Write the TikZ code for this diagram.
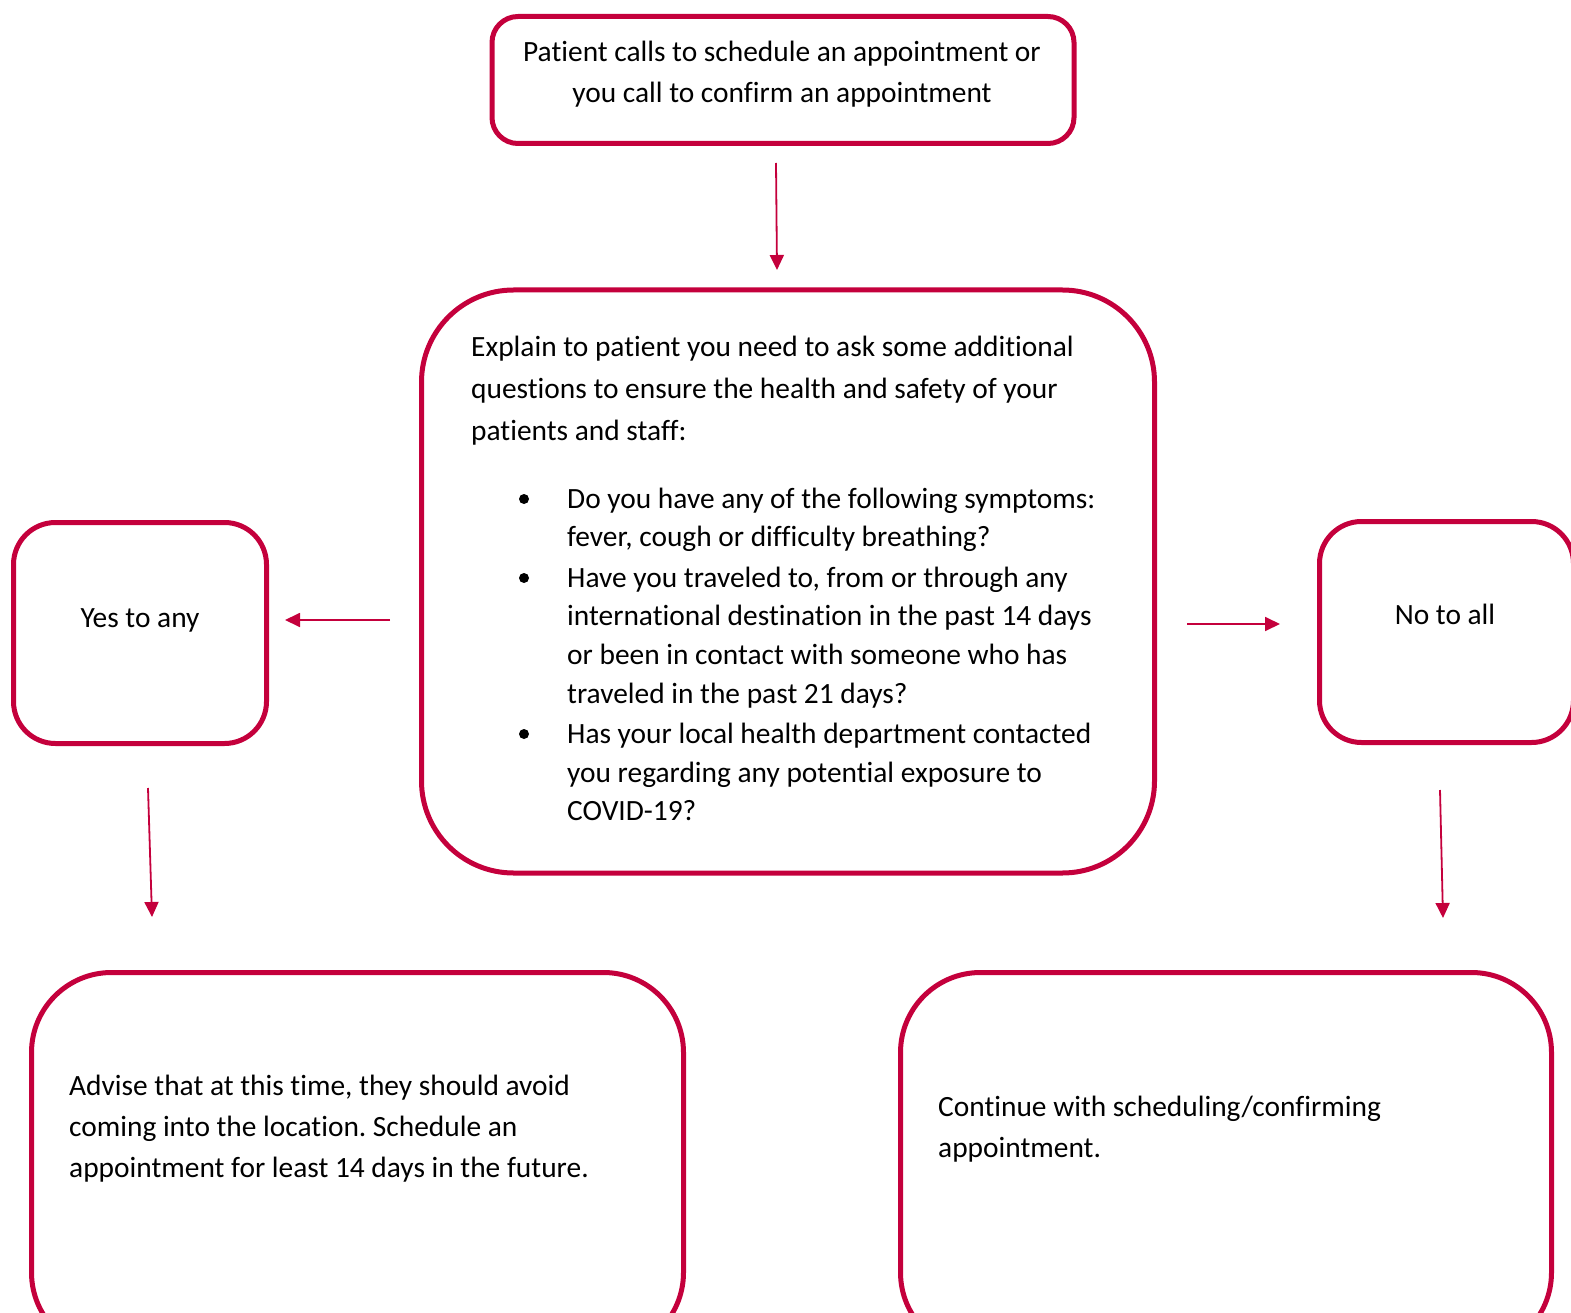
\documentclass[tikz,border=0pt]{standalone}
\usepackage{fontspec}
\setmainfont[Ligatures={NoCommon}]{Carlito}
\usetikzlibrary{arrows.meta}
\definecolor{crim}{RGB}{196,0,60}
\tikzset{
  box/.style={draw=crim, line width=5pt, rectangle, fill=none, inner sep=0pt},
  txt/.style={font=\fontsize{29.4}{41}\selectfont\frenchspacing, inner sep=0pt, text=black},
  lt/.style={txt, anchor=base west},
  flow/.style={draw=crim, line width=1.8pt, -{Triangle[length=15pt,width=14pt]}},
}
\begin{document}
\begin{tikzpicture}[x=1pt,y=-1pt]
\useasboundingbox (0,0) rectangle (1571,1313);
\clip (0,0) rectangle (1571,1313);
% boxes
\node[box, rounded corners=26pt, minimum width=582pt, minimum height=127pt] (top) at (783,80) {};
\node[box, rounded corners=92pt, minimum width=733pt, minimum height=583pt] (mid) at (788,581.5) {};
\node[box, rounded corners=42pt, minimum width=253pt, minimum height=221pt] (yes) at (140,633) {};
\node[box, rounded corners=42pt, minimum width=254pt, minimum height=221pt] (no) at (1446.5,632) {};
\node[box, rounded corners=80pt, minimum width=652pt, minimum height=380pt] (adv) at (357.5,1162.5) {};
\node[box, rounded corners=80pt, minimum width=651pt, minimum height=380pt] (cont) at (1226,1162.5) {};
% top text
\node[txt, anchor=base] (t1) at (782,62) {Patient calls to schedule an appointment or};
\node[txt, anchor=base] (t2) at (782,103) {you call to confirm an appointment};
% middle text
\node[lt] (m1) at (471,357) {Explain to patient you need to ask some additional};
\node[lt] (m2) at (471,398) {questions to ensure the health and safety of your};
\node[lt] (m3) at (471,440) {patients and staff:};
\node[lt] (b1) at (567,508) {Do you have any of the following symptoms:};
\node[lt] (b2) at (567,546) {fever, cough or difficulty breathing?};
\node[lt] (b3) at (567,587) {Have you traveled to, from or through any};
\node[lt] (b4) at (567,625) {international destination in the past 14 days};
\node[lt] (b5) at (567,664) {or been in contact with someone who has};
\node[lt] (b6) at (567,703) {traveled in the past 21 days?};
\node[lt] (b7) at (567,743) {Has your local health department contacted};
\node[lt] (b8) at (567,782) {you regarding any potential exposure to};
\node[lt] (b9) at (567,820) {COVID-19?};
\fill[black] (524,499) circle (5pt);
\fill[black] (524,578) circle (5pt);
\fill[black] (524,734) circle (5pt);
% side text
\node[txt, anchor=base] (ty) at (140,627) {Yes to any};
\node[txt, anchor=base] (tn) at (1445,624) {No to all};
% bottom text
\node[lt] (a1) at (69,1095) {Advise that at this time, they should avoid};
\node[lt] (a2) at (69,1136) {coming into the location. Schedule an};
\node[lt] (a3) at (69,1177) {appointment for least 14 days in the future.};
\node[lt] (c1) at (938,1116) {Continue with scheduling/confirming};
\node[lt] (c2) at (938,1157) {appointment.};
% connectors
\coordinate (s1) at (776,163); \coordinate (e1) at (777,270);
\coordinate (s2) at (390,620); \coordinate (e2) at (285,620);
\coordinate (s3) at (1187,624); \coordinate (e3) at (1280,624);
\coordinate (s4) at (148,788); \coordinate (e4) at (152,917);
\coordinate (s5) at (1440,790); \coordinate (e5) at (1443,918);
\draw[flow] (s1) -- (e1);
\draw[flow] (s2) -- (e2);
\draw[flow] (s3) -- (e3);
\draw[flow] (s4) -- (e4);
\draw[flow] (s5) -- (e5);
\end{tikzpicture}
\end{document}
